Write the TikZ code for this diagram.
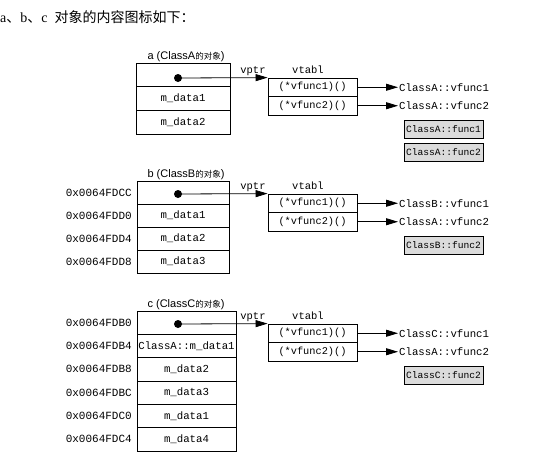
\documentclass[tikz,border=0pt]{standalone}
\usepackage{fontspec}
\setmainfont{Liberation Serif}
\setsansfont{Liberation Sans}
\setmonofont{Liberation Mono}
\newfontfamily\cjk{Noto Sans CJK SC}
\usetikzlibrary{arrows.meta}
\begin{document}
\begin{tikzpicture}[x=1pt,y=-1pt,
  cell/.style={draw, line width=0.8pt, inner sep=0pt, minimum height=23.5pt, font=\ttfamily\fontsize{10.7}{12}\selectfont},
  vcell/.style={draw, line width=0.8pt, inner sep=0pt, minimum width=89pt, minimum height=18.5pt, font=\ttfamily\fontsize{10.3}{12}\selectfont},
  dotmark/.style={circle, fill=black, inner sep=0pt, minimum size=8pt},
  arr/.style={line width=0.8pt, -{Triangle[length=12pt,width=7pt]}},
  tgt/.style={anchor=west, inner sep=1pt, font=\ttfamily\fontsize{10.7}{12}\selectfont},
  gbox/.style={draw, line width=0.9pt, fill=gray!28, inner sep=0pt, minimum width=79pt, minimum height=18pt, font=\ttfamily\fontsize{9.6}{11}\selectfont},
  addr/.style={anchor=east, inner sep=0pt, font=\ttfamily\fontsize{11}{12}\selectfont},
  olab/.style={anchor=south, inner sep=1pt, font=\sffamily\fontsize{11}{12}\selectfont},
  small/.style={inner sep=0pt, font=\ttfamily\fontsize{10.5}{12}\selectfont},
  title/.style={anchor=base west, inner sep=0pt, font=\fontsize{14}{16}\selectfont}
]
\useasboundingbox (0,0) rectangle (547,471);
\newcommand{\cj}[1]{{\cjk #1}}
\newcommand{\cjs}[1]{{\cjk\fontsize{8.5}{9}\selectfont #1}}

\node[title] (ttl) at (0,22) {a\cj{、}b\cj{、}c\hspace{7pt}\cj{对象的内容图标如下：}};

% ---------- a ----------
\node[olab] (alab) at (186,63) {a (ClassA\cjs{的对象})};
\node[cell, minimum width=94pt, minimum height=23.7pt] (a0) at (183,74.85) {};
\node[cell, minimum width=94pt, minimum height=23.7pt] (a1) at (183,98.55) {m\_data1};
\node[cell, minimum width=94pt, minimum height=23.7pt] (a2) at (183,122.25) {m\_data2};
\node[vcell] (av1) at (312.5,87.25) {(*vfunc1)()};
\node[vcell] (av2) at (312.5,105.75) {(*vfunc2)()};
\node[small] (avp) at (253,71) {vptr};
\node[small] (avt) at (308,70) {vtabl};
\node[dotmark] (ad) at (178,78) {};
\draw[arr] (ad.center) -- (av1.north west);
\node[tgt] (at1) at (398,87.25) {ClassA::vfunc1};
\node[tgt] (at2) at (398,105.75) {ClassA::vfunc2};
\draw[arr] (av1.east) -- (at1.west);
\draw[arr] (av2.east) -- (at2.west);
\node[gbox] (ag1) at (443.5,129) {ClassA::func1};
\node[gbox] (ag2) at (443.5,152) {ClassA::func2};

% ---------- b ----------
\node[olab] (blab) at (186,181) {b (ClassB\cjs{的对象})};
\node[cell, minimum width=92pt, minimum height=23pt] (b0) at (183,192.5) {};
\node[cell, minimum width=92pt, minimum height=23pt] (b1) at (183,215.5) {m\_data1};
\node[cell, minimum width=92pt, minimum height=23pt] (b2) at (183,238.5) {m\_data2};
\node[cell, minimum width=92pt, minimum height=23pt] (b3) at (183,261.5) {m\_data3};
\node[addr] (ba0) at (132,192.5) {0x0064FDCC};
\node[addr] (ba1) at (132,215.5) {0x0064FDD0};
\node[addr] (ba2) at (132,238.5) {0x0064FDD4};
\node[addr] (ba3) at (132,261.5) {0x0064FDD8};
\node[vcell] (bv1) at (312.5,203.25) {(*vfunc1)()};
\node[vcell] (bv2) at (312.5,221.75) {(*vfunc2)()};
\node[small] (bvp) at (253,187) {vptr};
\node[small] (bvt) at (308,186) {vtabl};
\node[dotmark] (bd) at (178,194) {};
\draw[arr] (bd.center) -- (bv1.north west);
\node[tgt] (bt1) at (398,203.25) {ClassB::vfunc1};
\node[tgt] (bt2) at (398,221.75) {ClassA::vfunc2};
\draw[arr] (bv1.east) -- (bt1.west);
\draw[arr] (bv2.east) -- (bt2.west);
\node[gbox] (bg1) at (443.5,245.5) {ClassB::func2};

% ---------- c ----------
\node[olab] (clab) at (186,311) {c (ClassC\cjs{的对象})};
\node[cell, minimum width=99pt, minimum height=23.33pt] (c0) at (186.5,322.67) {};
\node[cell, minimum width=99pt, minimum height=23.33pt] (c1) at (186.5,346) {ClassA::m\_data1};
\node[cell, minimum width=99pt, minimum height=23.33pt] (c2) at (186.5,369.33) {m\_data2};
\node[cell, minimum width=99pt, minimum height=23.33pt] (c3) at (186.5,392.67) {m\_data3};
\node[cell, minimum width=99pt, minimum height=23.33pt] (c4) at (186.5,416) {m\_data1};
\node[cell, minimum width=99pt, minimum height=23.33pt] (c5) at (186.5,439.33) {m\_data4};
\node[addr] (ca0) at (132,322.67) {0x0064FDB0};
\node[addr] (ca1) at (132,346) {0x0064FDB4};
\node[addr] (ca2) at (132,369.33) {0x0064FDB8};
\node[addr] (ca3) at (132,392.67) {0x0064FDBC};
\node[addr] (ca4) at (132,416) {0x0064FDC0};
\node[addr] (ca5) at (132,439.33) {0x0064FDC4};
\node[vcell] (cv1) at (312.5,333.25) {(*vfunc1)()};
\node[vcell] (cv2) at (312.5,351.75) {(*vfunc2)()};
\node[small] (cvp) at (253,317) {vptr};
\node[small] (cvt) at (308,316) {vtabl};
\node[dotmark] (cd) at (178,324) {};
\draw[arr] (cd.center) -- (cv1.north west);
\node[tgt] (ct1) at (398,333.25) {ClassC::vfunc1};
\node[tgt] (ct2) at (398,351.75) {ClassA::vfunc2};
\draw[arr] (cv1.east) -- (ct1.west);
\draw[arr] (cv2.east) -- (ct2.west);
\node[gbox] (cg1) at (443.5,375.5) {ClassC::func2};
\end{tikzpicture}
\end{document}
